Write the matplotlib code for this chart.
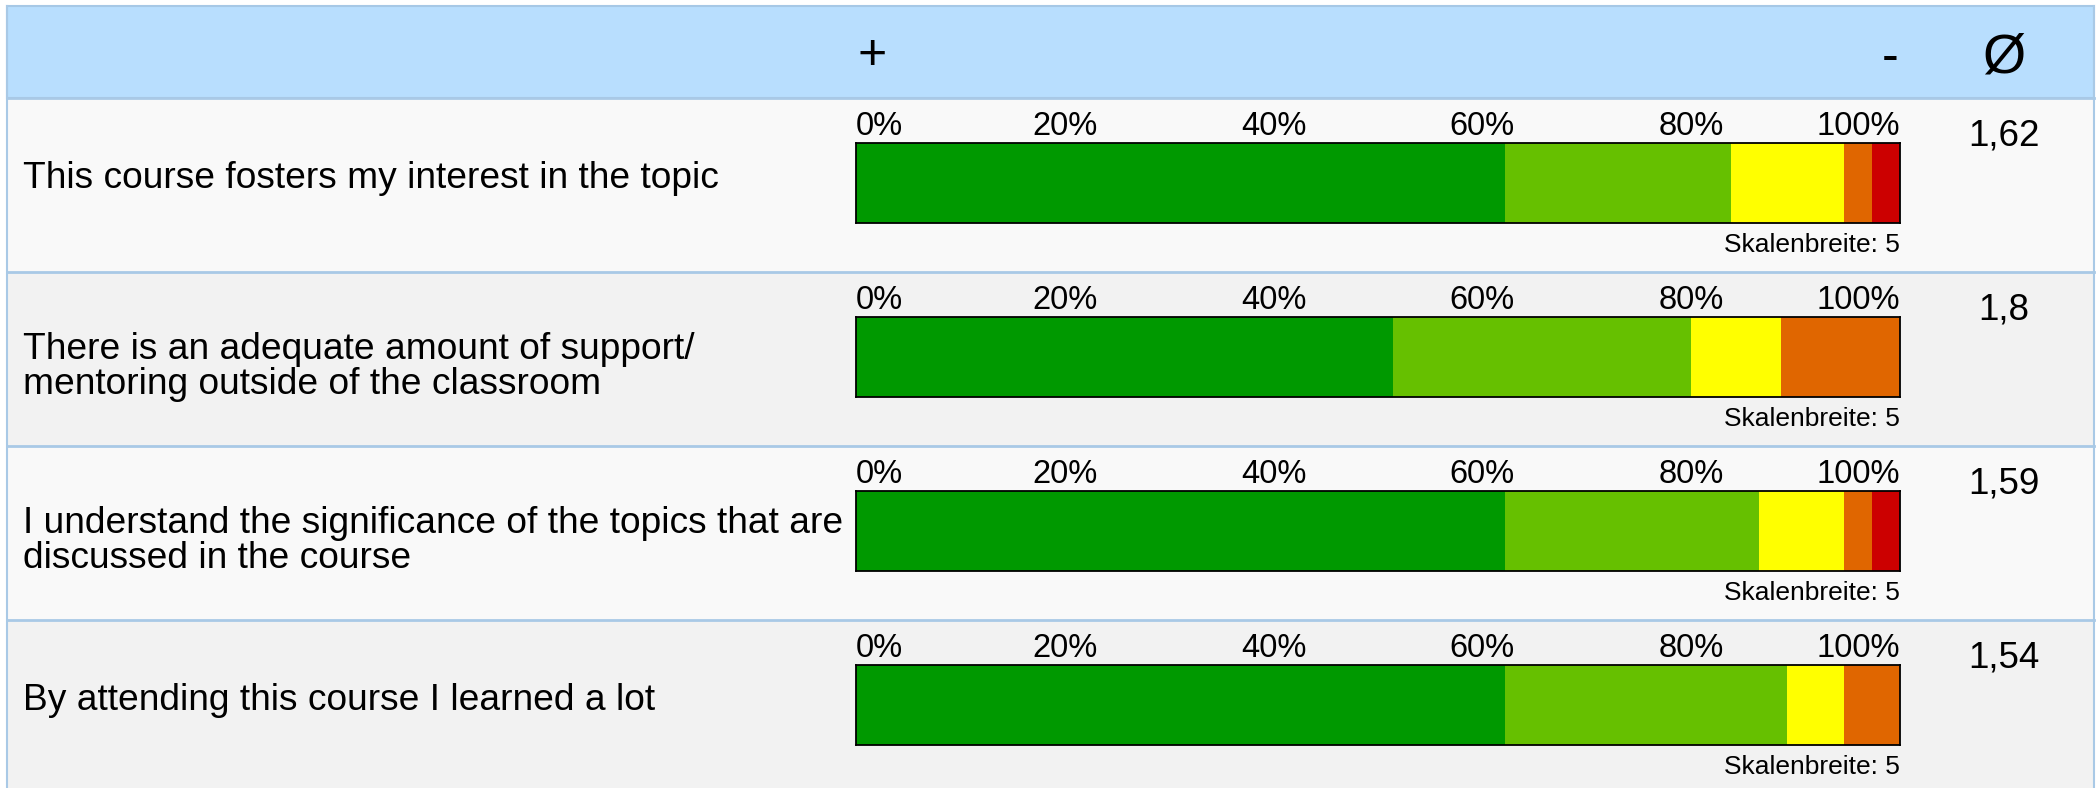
import matplotlib
matplotlib.use("Agg")
import matplotlib.pyplot as plt
from matplotlib.patches import Rectangle

plt.rcParams["font.family"] = ["Liberation Sans", "DejaVu Sans"]

QUESTIONS = ["This course fosters my interest in the topic",
             "There is an adequate amount of support/\nmentoring outside of the classroom",
             "I understand the significance of the topics that are\ndiscussed in the course",
             "By attending this course I learned a lot"]
# share of answers per scale step (1 = best ... 5 = worst), percent
STEP1 = [62.2, 51.4, 62.2, 62.2]
STEP2 = [21.6, 28.6, 24.3, 27.0]
STEP3 = [10.8, 8.6, 8.1, 5.4]
STEP4 = [2.7, 11.4, 2.7, 5.4]
STEP5 = [2.7, 0.0, 2.7, 0.0]
MEANS = ["1,62", "1,8", "1,59", "1,54"]
SCALE_WIDTH = 5
TICKS = [0, 20, 40, 60, 80, 100]

STEP_COLORS = ["#009900", "#66c000", "#ffff00", "#e06600", "#cc0000"]
HEADER_BG = "#b8defe"
ROW_BG = ["#f9f9f9", "#f2f2f2"]
SEP = "#a9c9e6"

W, H = 2098, 788
ROW_TOP, ROW_H = 98, 174
BAR_X, BAR_W, BAR_DY, BAR_H = 856, 1044, 45, 80

fig = plt.figure(figsize=(W / 100, H / 100), dpi=100)
bg = fig.add_axes([0, 0, 1, 1])
bg.set_xlim(0, W); bg.set_ylim(H, 0); bg.axis("off")

# header band
bg.add_patch(Rectangle((7, 6), W - 11, ROW_TOP - 6, fc=HEADER_BG, ec="#a6c8e6", lw=1.5))
bg.text(BAR_X + 1, 56, "+", fontsize=36, ha="left", va="center")
bg.text(BAR_X + BAR_W - 2, 58, "-", fontsize=36, ha="right", va="center")
bg.text(2004, 58, "Ø", fontsize=40, ha="center", va="center")

steps = [STEP1, STEP2, STEP3, STEP4, STEP5]
for i, q in enumerate(QUESTIONS):
    top = ROW_TOP + i * ROW_H
    bg.add_patch(Rectangle((7, top), W - 11, ROW_H, fc=ROW_BG[i % 2], ec="none"))
    bg.plot([7, W - 4], [top, top], color=SEP, lw=2)
    nl = q.count("\n")
    bg.text(23, top + 80 + 15 * nl, q, fontsize=26.7, ha="left", va="center", linespacing=1.02)
    bg.text(2004, top + 38, MEANS[i], fontsize=26.5, ha="center", va="center")
    bg.text(BAR_X + BAR_W, top + 154, f"Skalenbreite: {SCALE_WIDTH}", fontsize=19,
            ha="right", va="baseline")

    ax = fig.add_axes([BAR_X / W, 1 - (top + BAR_DY + BAR_H) / H, BAR_W / W, BAR_H / H])
    left = 0.0
    for vals, c in zip(steps, STEP_COLORS):
        ax.barh(0, vals[i], left=left, height=1.0, color=c, lw=0)
        left += vals[i]
    ax.set_xlim(0, 100); ax.set_ylim(-0.5, 0.5)
    ax.set_yticks([])
    ax.xaxis.tick_top()
    ax.set_xticks(TICKS)
    ax.set_xticklabels([f"{t}%" for t in TICKS], fontsize=23.5)
    ax.tick_params(axis="x", length=0, pad=1)
    lbls = ax.get_xticklabels()
    lbls[0].set_ha("left"); lbls[-1].set_ha("right")
    for s in ax.spines.values():
        s.set_color("black"); s.set_linewidth(1.3)

# outer borders
bg.plot([7, 7], [6, H], color=SEP, lw=1.5)
bg.plot([W - 4, W - 4], [6, H], color=SEP, lw=1.5)

fig.savefig("out.png", dpi=100, facecolor="white")
